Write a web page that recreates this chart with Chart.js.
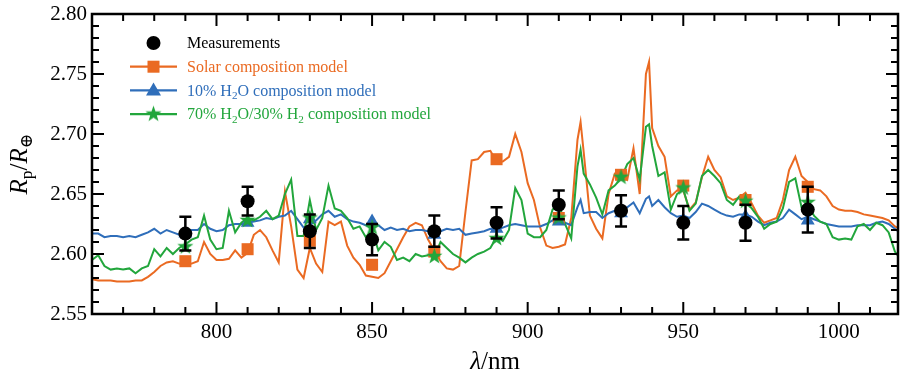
<!DOCTYPE html>
<html>
<head>
<meta charset="utf-8">
<script src="https://cdn.jsdelivr.net/npm/chart.js@4.4.1/dist/chart.umd.min.js"></script>
<style>
  html, body { margin: 0; padding: 0; background: #fff; }
  #wrap { width: 900px; height: 380px; }
</style>
</head>
<body>
<div id="wrap"><canvas id="spectrumChart" width="900" height="380"></canvas></div>
<script>
// ---- data ----
const wavelengths = [
  760, 762, 764, 766, 768, 770, 772, 774, 776, 778, 780, 782, 784, 786, 788, 790, 792, 794, 796, 798,
  800, 802, 804, 806, 808, 810, 812, 814, 816, 818, 820, 822, 824, 826, 828, 830, 832, 834, 836, 838,
  840, 842, 844, 846, 848, 850, 852, 854, 856, 858, 860, 862, 864, 866, 868, 870, 872, 874, 876, 878,
  880, 882, 884, 886, 888, 890, 892, 894, 896, 898, 900, 902, 904, 906, 908, 910, 912, 914, 916,
  917,
  918, 920, 922, 924, 926, 928, 930, 932, 934, 936, 938,
  939,
  940, 942, 944, 946, 948, 950, 952, 954, 956, 958, 960, 962, 964, 966, 968, 970, 972, 974, 976, 978,
  980, 982, 984, 986, 988, 990, 992, 994, 996, 998, 1000, 1002, 1004, 1006, 1008, 1010, 1012, 1014, 1016, 1018, 1020
];

const solarModel = [
  2.579, 2.578, 2.578, 2.578, 2.577, 2.577, 2.577, 2.578, 2.578, 2.581, 2.585, 2.590, 2.593, 2.594, 2.592, 2.591, 2.592, 2.594, 2.610, 2.600,
  2.595, 2.595, 2.596, 2.603, 2.597, 2.601, 2.616, 2.620, 2.614, 2.603, 2.593, 2.652, 2.623, 2.587, 2.580, 2.605, 2.592, 2.585, 2.627, 2.624,
  2.627, 2.607, 2.597, 2.591, 2.582, 2.581, 2.580, 2.584, 2.594, 2.604, 2.614, 2.623, 2.626, 2.624, 2.612, 2.603, 2.594, 2.588, 2.587, 2.590,
  2.635, 2.678, 2.679, 2.685, 2.686, 2.677, 2.677, 2.681, 2.700, 2.685, 2.659, 2.645, 2.622, 2.607, 2.605, 2.606, 2.608, 2.630, 2.695,
  2.710,
  2.685, 2.632, 2.621, 2.613, 2.650, 2.667, 2.666, 2.662, 2.688, 2.650, 2.750,
  2.760,
  2.705, 2.690, 2.681, 2.648, 2.653, 2.653, 2.637, 2.643, 2.664, 2.681, 2.670, 2.664, 2.648, 2.645, 2.647, 2.651, 2.642, 2.632, 2.626, 2.628,
  2.630, 2.645, 2.670, 2.681, 2.665, 2.660, 2.654, 2.653, 2.648, 2.640, 2.637, 2.636, 2.636, 2.635, 2.633, 2.632, 2.631, 2.630, 2.628, 2.623, 2.620
];

const h2o10Model = [
  2.617, 2.617, 2.614, 2.615, 2.615, 2.614, 2.615, 2.614, 2.616, 2.618, 2.621, 2.617, 2.620, 2.618, 2.616, 2.618, 2.620, 2.620, 2.625, 2.621,
  2.619, 2.620, 2.624, 2.625, 2.625, 2.626, 2.627, 2.628, 2.630, 2.629, 2.631, 2.632, 2.636, 2.629, 2.622, 2.624, 2.628, 2.633, 2.636, 2.631,
  2.633, 2.629, 2.627, 2.626, 2.624, 2.622, 2.624, 2.620, 2.622, 2.620, 2.621, 2.619, 2.620, 2.620, 2.619, 2.616, 2.619, 2.621, 2.620, 2.621,
  2.616, 2.617, 2.618, 2.619, 2.621, 2.620, 2.622, 2.624, 2.625, 2.624, 2.623, 2.623, 2.623, 2.625, 2.628, 2.627, 2.626, 2.624, 2.639,
  2.645,
  2.634, 2.635, 2.635, 2.630, 2.634, 2.636, 2.638, 2.639, 2.643, 2.634, 2.646,
  2.648,
  2.640, 2.645, 2.639, 2.634, 2.631, 2.632, 2.630, 2.635, 2.642, 2.640, 2.637, 2.634, 2.632, 2.631, 2.633, 2.633, 2.631, 2.627, 2.624, 2.626,
  2.627, 2.630, 2.637, 2.633, 2.629, 2.631, 2.629, 2.627, 2.625, 2.624, 2.623, 2.623, 2.623, 2.624, 2.624, 2.624, 2.626, 2.627, 2.625, 2.621, 2.617
];

const h2o70Model = [
  2.595, 2.599, 2.590, 2.587, 2.588, 2.587, 2.588, 2.584, 2.588, 2.590, 2.604, 2.598, 2.605, 2.600, 2.605, 2.608, 2.612, 2.614, 2.632, 2.612,
  2.604, 2.605, 2.636, 2.618, 2.626, 2.630, 2.628, 2.631, 2.636, 2.629, 2.632, 2.650, 2.662, 2.615, 2.615, 2.645, 2.620, 2.630, 2.657, 2.638,
  2.636, 2.630, 2.621, 2.623, 2.614, 2.620, 2.603, 2.610, 2.606, 2.595, 2.597, 2.594, 2.600, 2.598, 2.599, 2.598, 2.610, 2.605, 2.600, 2.597,
  2.593, 2.597, 2.600, 2.602, 2.605, 2.614, 2.611, 2.620, 2.655, 2.645, 2.617, 2.614, 2.614, 2.620, 2.637, 2.642, 2.625, 2.613, 2.673,
  2.687,
  2.667, 2.658, 2.647, 2.633, 2.653, 2.657, 2.663, 2.675, 2.680, 2.662, 2.706,
  2.708,
  2.690, 2.665, 2.668, 2.637, 2.650, 2.654, 2.636, 2.642, 2.665, 2.670, 2.665, 2.659, 2.645, 2.641, 2.648, 2.645, 2.638, 2.631, 2.621, 2.625,
  2.627, 2.638, 2.660, 2.663, 2.639, 2.642, 2.632, 2.627, 2.625, 2.614, 2.612, 2.613, 2.612, 2.623, 2.625, 2.620, 2.626, 2.624, 2.618, 2.602, 2.595
];

const binCenters   = [790, 810, 830, 850, 870, 890, 910, 930, 950, 970, 990];
const measured     = [2.617, 2.644, 2.619, 2.612, 2.619, 2.626, 2.641, 2.636, 2.626, 2.626, 2.637];
const measuredErr  = [0.014, 0.012, 0.014, 0.013, 0.013, 0.013, 0.012, 0.013, 0.014, 0.015, 0.019];
const solarBinned  = [2.594, 2.604, 2.611, 2.591, 2.602, 2.679, 2.630, 2.666, 2.657, 2.645, 2.656];
const h2o10Binned  = [2.617, 2.626, 2.629, 2.627, 2.616, 2.621, 2.627, 2.634, 2.628, 2.631, 2.628];
const h2o70Binned  = [2.606, 2.628, 2.630, 2.622, 2.598, 2.613, 2.630, 2.664, 2.655, 2.644, 2.643];

const xTickValues = [800, 850, 900, 950, 1000];
const yTickValues = [2.55, 2.60, 2.65, 2.70, 2.75, 2.80];

// ---- styling ----
const ORANGE = "#EA6A22";
const BLUE = "#2F6EBA";
const GREEN = "#22A63C";
const FONT = '"Liberation Serif", "DejaVu Serif", serif';

function pts(xs, ys) {
  return xs.map((x, i) => ({ x: x, y: ys[i] }));
}

function makeStar(color, r) {
  const c = document.createElement("canvas");
  c.width = c.height = Math.ceil(r * 2 + 2);
  const g = c.getContext("2d");
  g.translate(c.width / 2, c.height / 2);
  g.beginPath();
  for (let k = 0; k < 10; k++) {
    const rr = k % 2 ? r * 0.4 : r;
    const a = -Math.PI / 2 + k * Math.PI / 5;
    g.lineTo(rr * Math.cos(a), rr * Math.sin(a));
  }
  g.closePath();
  g.fillStyle = color;
  g.fill();
  return c;
}
const starImg = makeStar(GREEN, 8.5);

// rich text: parts = [[text, mode]] mode '' | 'i' italic | 's' subscript
function richWidth(ctx, parts, size) {
  let w = 0;
  for (const [t, m] of parts) {
    const fs = m === "s" ? size * 0.7 : size;
    ctx.font = (m === "i" ? "italic " : "") + fs + "px " + FONT;
    w += ctx.measureText(t).width;
  }
  return w;
}
function drawRich(ctx, parts, x, y, size, color) {
  let cx = x;
  ctx.fillStyle = color;
  for (const [t, m] of parts) {
    const fs = m === "s" ? size * 0.7 : size;
    ctx.font = (m === "i" ? "italic " : "") + fs + "px " + FONT;
    ctx.fillText(t, cx, m === "s" ? y + size * 0.28 : y);
    cx += ctx.measureText(t).width;
  }
}

function legendMarker(ctx, kind, x, y, color) {
  ctx.fillStyle = color;
  if (kind === "circle") {
    ctx.beginPath(); ctx.arc(x, y, 7, 0, Math.PI * 2); ctx.fill();
  } else if (kind === "rect") {
    ctx.fillRect(x - 6, y - 6, 12, 12);
  } else if (kind === "tri") {
    ctx.beginPath(); ctx.moveTo(x, y - 8); ctx.lineTo(x + 7.5, y + 5); ctx.lineTo(x - 7.5, y + 5); ctx.closePath(); ctx.fill();
  } else if (kind === "star") {
    ctx.drawImage(starImg, x - starImg.width / 2, y - starImg.height / 2);
  }
}

// error bars, frame, inward ticks, titles and legend
const decorPlugin = {
  id: "decor",
  afterDatasetsDraw(chart) {
    const ctx = chart.ctx, xs = chart.scales.x, ys = chart.scales.y;
    ctx.save();
    ctx.strokeStyle = "#000";
    ctx.lineWidth = 2.5;
    binCenters.forEach((b, i) => {
      const px = xs.getPixelForValue(b);
      const top = ys.getPixelForValue(measured[i] + measuredErr[i]);
      const bot = ys.getPixelForValue(measured[i] - measuredErr[i]);
      ctx.beginPath();
      ctx.moveTo(px, top); ctx.lineTo(px, bot);
      ctx.moveTo(px - 6, top); ctx.lineTo(px + 6, top);
      ctx.moveTo(px - 6, bot); ctx.lineTo(px + 6, bot);
      ctx.stroke();
      ctx.beginPath();
      ctx.arc(px, ys.getPixelForValue(measured[i]), 7, 0, Math.PI * 2);
      ctx.fillStyle = "#000";
      ctx.fill();
    });
    ctx.restore();
  },
  afterDraw(chart) {
    const ctx = chart.ctx, a = chart.chartArea, xs = chart.scales.x, ys = chart.scales.y;
    ctx.save();
    ctx.strokeStyle = "#000";
    ctx.lineWidth = 2.5;
    ctx.strokeRect(a.left, a.top, a.right - a.left, a.bottom - a.top);

    // ticks pointing inward on all four sides
    ctx.lineWidth = 2;
    ctx.beginPath();
    for (let v = 770; v <= 1010; v += 10) {
      const px = xs.getPixelForValue(v);
      const len = v % 50 === 0 ? 12 : 7;
      ctx.moveTo(px, a.bottom); ctx.lineTo(px, a.bottom - len);
      ctx.moveTo(px, a.top); ctx.lineTo(px, a.top + len);
    }
    for (let k = 1; k < 25; k++) {
      const py = ys.getPixelForValue(2.55 + k * 0.01);
      const len = k % 5 === 0 ? 12 : 7;
      ctx.moveTo(a.left, py); ctx.lineTo(a.left + len, py);
      ctx.moveTo(a.right, py); ctx.lineTo(a.right - len, py);
    }
    ctx.stroke();

    // axis titles
    ctx.textBaseline = "middle";
    ctx.textAlign = "left";
    const xt = [["\u03bb", "i"], ["/nm", ""]];
    const xw = richWidth(ctx, xt, 25);
    drawRich(ctx, xt, (a.left + a.right) / 2 - xw / 2, 362, 25, "#000");

    const yt = [["R", "i"], ["p", "s"], ["/", ""], ["R", "i"], ["\u2295", "s"]];
    ctx.translate(20, (a.top + a.bottom) / 2);
    ctx.rotate(-Math.PI / 2);
    const yw = richWidth(ctx, yt, 25);
    drawRich(ctx, yt, -yw / 2, 0, 25, "#000");
    ctx.setTransform(1, 0, 0, 1, 0, 0);

    // legend
    const rows = [
      { kind: "circle", color: "#000", line: false, parts: [["Measurements", ""]] },
      { kind: "rect", color: ORANGE, line: true, parts: [["Solar composition model", ""]] },
      { kind: "tri", color: BLUE, line: true, parts: [["10% H", ""], ["2", "s"], ["O composition model", ""]] },
      { kind: "star", color: GREEN, line: true, parts: [["70% H", ""], ["2", "s"], ["O/30% H", ""], ["2", "s"], [" composition model", ""]] }
    ];
    rows.forEach((r, i) => {
      const y = 43 + i * 23.7;
      if (r.line) {
        ctx.strokeStyle = r.color;
        ctx.lineWidth = 2.2;
        ctx.beginPath(); ctx.moveTo(130, y); ctx.lineTo(177, y); ctx.stroke();
      }
      legendMarker(ctx, r.kind, 153.5, y, r.color);
      drawRich(ctx, r.parts, 187, y + 1, 16, r.color);
    });
    ctx.restore();
  }
};

const modelLine = (label, ys, color, order) => ({
  label: label,
  data: pts(wavelengths, ys),
  borderColor: color,
  borderWidth: 2,
  pointRadius: 0,
  tension: 0,
  fill: false,
  order: order
});
const markerSet = (label, ys, color, style, radius, order) => ({
  label: label,
  data: pts(binCenters, ys),
  showLine: false,
  pointStyle: style,
  pointRadius: radius,
  backgroundColor: color,
  borderColor: color,
  borderWidth: 0,
  order: order
});

new Chart(document.getElementById("spectrumChart"), {
  type: "line",
  data: {
    datasets: [
      modelLine("Solar composition model", solarModel, ORANGE, 10),
      modelLine("10% H2O composition model", h2o10Model, BLUE, 9),
      modelLine("70% H2O/30% H2 composition model", h2o70Model, GREEN, 8),
      markerSet("Solar binned", solarBinned, ORANGE, "rect", 8.5, 5),
      markerSet("10% binned", h2o10Binned, BLUE, "triangle", 8, 4),
      markerSet("70% binned", h2o70Binned, GREEN, starImg, 8, 3)
    ]
  },
  options: {
    responsive: false,
    animation: false,
    devicePixelRatio: 1,
    layout: { autoPadding: false, padding: { left: 0, right: 2, top: 14, bottom: 0 } },
    plugins: { legend: { display: false }, tooltip: { enabled: false } },
    scales: {
      x: {
        type: "linear",
        min: 760,
        max: 1019,
        afterBuildTicks: s => { s.ticks = xTickValues.map(v => ({ value: v })); },
        afterFit: s => { s.height = 66; s.paddingLeft = 0; s.paddingRight = 0; },
        grid: { display: false, drawTicks: false },
        border: { display: false },
        ticks: { color: "#000", font: { family: FONT, size: 21 }, padding: 6, maxRotation: 0, callback: v => String(v) }
      },
      y: {
        type: "linear",
        min: 2.55,
        max: 2.80,
        afterBuildTicks: s => { s.ticks = yTickValues.map(v => ({ value: v })); },
        afterFit: s => { s.width = 92; s.paddingTop = 0; s.paddingBottom = 0; },
        grid: { display: false, drawTicks: false },
        border: { display: false },
        ticks: { color: "#000", font: { family: FONT, size: 21 }, padding: 5, callback: v => v.toFixed(2) }
      }
    }
  },
  plugins: [decorPlugin]
});
</script>
</body>
</html>
